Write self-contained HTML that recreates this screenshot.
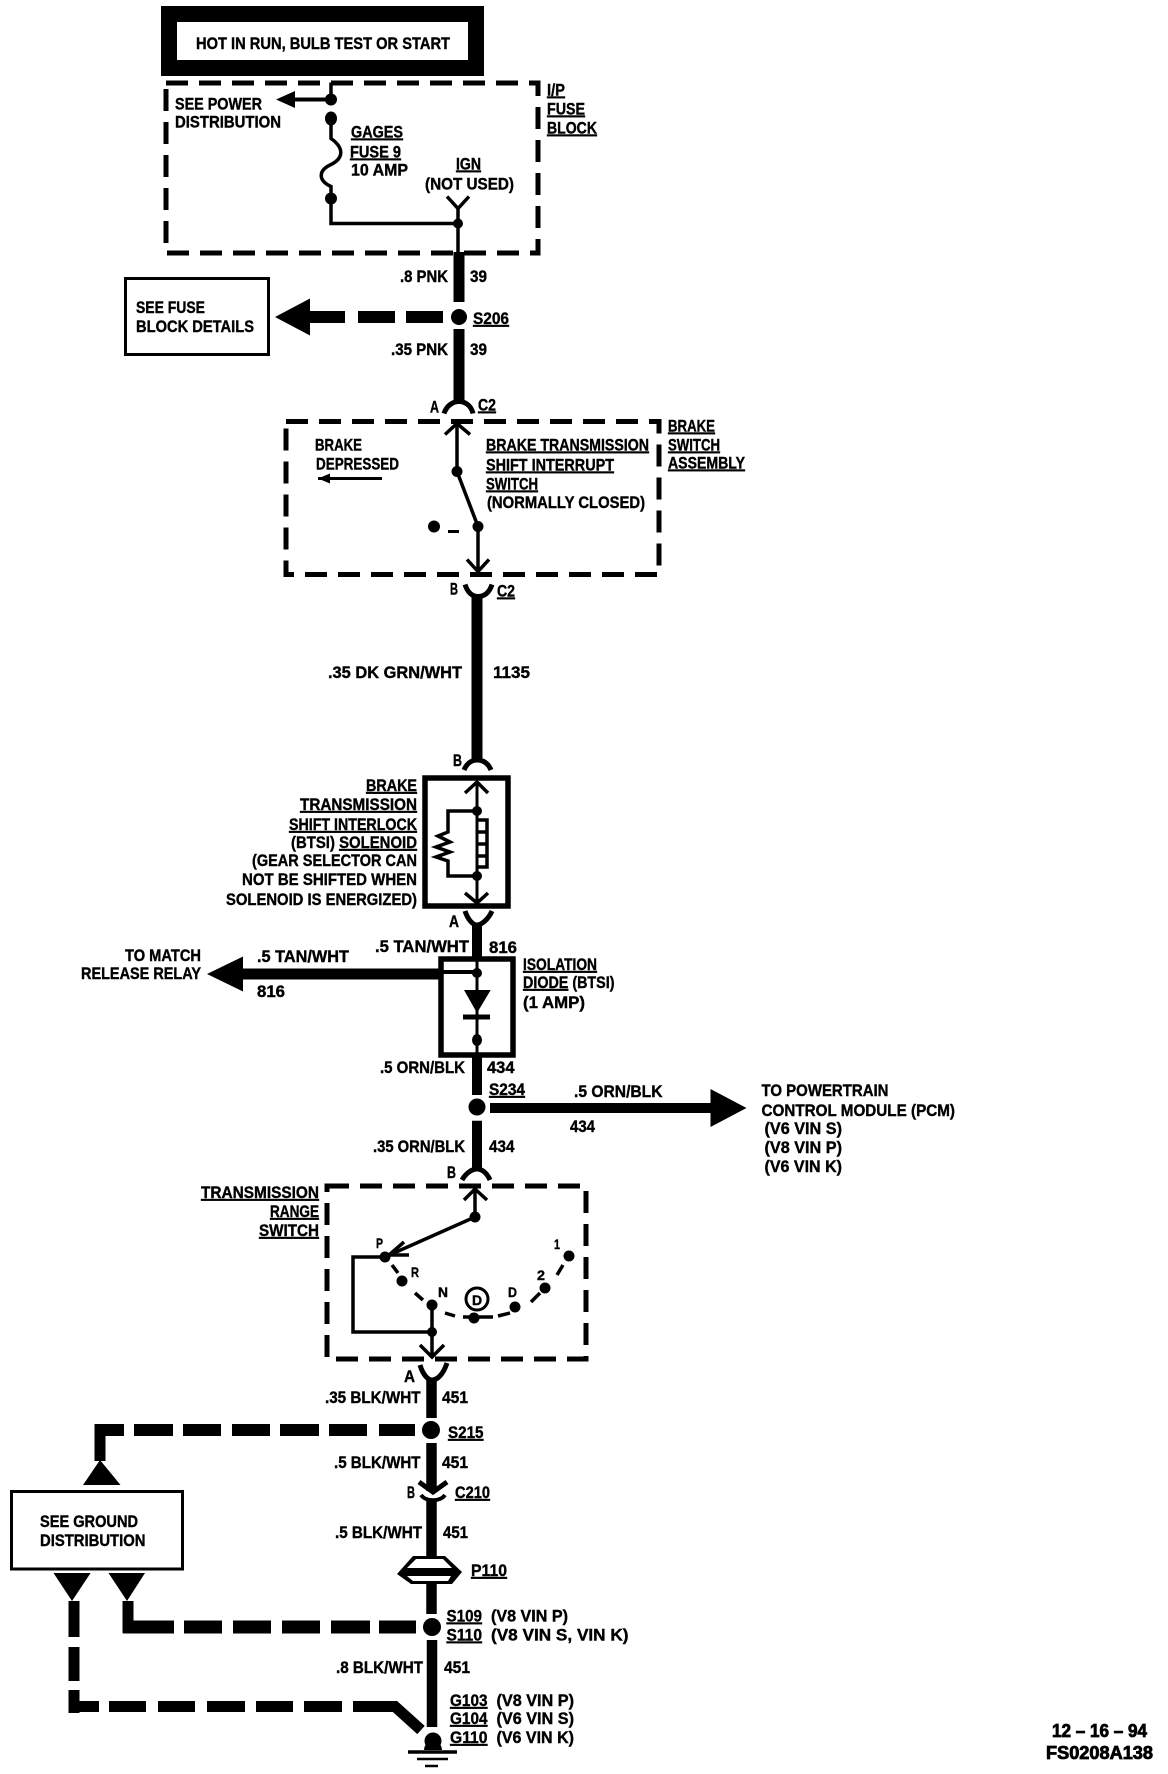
<!DOCTYPE html>
<html><head><meta charset="utf-8"><style>
html,body{margin:0;padding:0;background:#fff}
svg{display:block}
text{font-family:"Liberation Sans",sans-serif;font-weight:bold;font-size:17px;fill:#000;stroke:#000;stroke-width:.4}
.u{text-decoration:underline}
</style></head><body>
<svg width="1168" height="1774" viewBox="0 0 1168 1774" xmlns="http://www.w3.org/2000/svg">
<rect width="1168" height="1774" fill="#fff"/>
<!-- top box -->
<rect x="169" y="14" width="307" height="54" fill="#fff" stroke="#000" stroke-width="16"/>
<text x="196" y="49" textLength="254" lengthAdjust="spacingAndGlyphs">HOT IN RUN, BULB TEST OR START</text>
<!-- fuse block group -->
<g transform="translate(0,-1.5)">
<g fill="none" stroke="#000">
<rect x="166" y="84.500" width="372" height="170" stroke-width="5" stroke-dasharray="22 11"/>
<path d="M331 84V101M331 120V140C345 150 343 160 331 166C318 172 318 182 331 188V200V225H458M458 210V254" stroke-width="3.500"/>
<path d="M447 198L458 210L469 198" stroke-width="3.500"/>
<path d="M331 101H290" stroke-width="4"/>
</g>
<circle cx="331" cy="101" r="6"/><ellipse cx="331" cy="120" rx="6" ry="7"/><circle cx="331" cy="200" r="6"/><circle cx="458" cy="225" r="5"/>
<path d="M276 101L295 92.500V109.500Z"/>
<text x="175" y="111" textLength="87" lengthAdjust="spacingAndGlyphs">SEE POWER</text>
<text x="175" y="129" textLength="106" lengthAdjust="spacingAndGlyphs">DISTRIBUTION</text>
<text x="351" y="139" textLength="52" lengthAdjust="spacingAndGlyphs" class="u">GAGES</text>
<text x="350" y="159" textLength="51" lengthAdjust="spacingAndGlyphs" class="u">FUSE 9</text>
<text x="351" y="177" textLength="57" lengthAdjust="spacingAndGlyphs">10 AMP</text>
<text x="456" y="171" textLength="25" lengthAdjust="spacingAndGlyphs" class="u">IGN</text>
<text x="425" y="191" textLength="89" lengthAdjust="spacingAndGlyphs">(NOT USED)</text>
<text x="547" y="97" textLength="18" lengthAdjust="spacingAndGlyphs" class="u">I/P</text>
<text x="547" y="116" textLength="38" lengthAdjust="spacingAndGlyphs" class="u">FUSE</text>
<text x="547" y="135" textLength="50" lengthAdjust="spacingAndGlyphs" class="u">BLOCK</text>
</g>
<!-- S206 group -->
<g transform="translate(0,-2)">
<g fill="none" stroke="#000">
<rect x="125.500" y="280.500" width="143" height="76" stroke-width="3"/>
<path d="M459 254V304M459 331V404" stroke-width="11"/>
<path d="M443 319H406M395 319H358M345 319H310" stroke-width="12"/>
</g>
<circle cx="459" cy="319" r="8"/>
<path d="M275 319L310 300.500V337.500Z"/>
<text x="400" y="284" textLength="48" lengthAdjust="spacingAndGlyphs">.8 PNK</text>
<text x="470" y="284" textLength="17" lengthAdjust="spacingAndGlyphs">39</text>
<text x="136" y="315" textLength="69" lengthAdjust="spacingAndGlyphs">SEE FUSE</text>
<text x="136" y="334" textLength="118" lengthAdjust="spacingAndGlyphs">BLOCK DETAILS</text>
<text x="473" y="326" textLength="36" lengthAdjust="spacingAndGlyphs" class="u">S206</text>
<text x="391" y="357" textLength="57" lengthAdjust="spacingAndGlyphs">.35 PNK</text>
<text x="470" y="357" textLength="17" lengthAdjust="spacingAndGlyphs">39</text>
</g>
<!-- brake switch group -->
<g transform="translate(0,-3.5)">
<g fill="none" stroke="#000">
<path d="M444 417C447 408 454 405 459 405C464 405 471 408 473 417" stroke-width="5"/>
<rect x="286" y="425" width="373" height="153" stroke-width="5" stroke-dasharray="22 11"/>
<path d="M457 427V475L478 530V578" stroke-width="3.500"/>
<path d="M445 438L457 427L470 438M467 563L478 575L489 563" stroke-width="3.500"/>
<path d="M465 588C468 597 473 600 478 600C484 600 489 597 492 588" stroke-width="5"/>
<path d="M448 535H459" stroke-width="3"/>
<path d="M318 482H382" stroke-width="3"/>
</g>
<circle cx="457" cy="475" r="5.500"/><circle cx="478" cy="530" r="5.500"/><circle cx="434" cy="530" r="6"/>
<path d="M318 482L330 477V487Z"/>
<text x="430" y="416" textLength="9" lengthAdjust="spacingAndGlyphs">A</text>
<text x="478" y="414" textLength="18" lengthAdjust="spacingAndGlyphs" class="u">C2</text>
<text x="315" y="454" textLength="47" lengthAdjust="spacingAndGlyphs">BRAKE</text>
<text x="316" y="473" textLength="83" lengthAdjust="spacingAndGlyphs">DEPRESSED</text>
<text x="486" y="454" textLength="163" lengthAdjust="spacingAndGlyphs" class="u">BRAKE TRANSMISSION</text>
<text x="486" y="474" textLength="128" lengthAdjust="spacingAndGlyphs" class="u">SHIFT INTERRUPT</text>
<text x="486" y="493" textLength="52" lengthAdjust="spacingAndGlyphs" class="u">SWITCH</text>
<text x="487" y="511.500" textLength="158" lengthAdjust="spacingAndGlyphs">(NORMALLY CLOSED)</text>
<text x="668" y="435" textLength="47" lengthAdjust="spacingAndGlyphs" class="u">BRAKE</text>
<text x="668" y="454" textLength="52" lengthAdjust="spacingAndGlyphs" class="u">SWITCH</text>
<text x="668" y="472" textLength="77" lengthAdjust="spacingAndGlyphs" class="u">ASSEMBLY</text>
<text x="450" y="598" textLength="8" lengthAdjust="spacingAndGlyphs">B</text>
<text x="497" y="600" textLength="18" lengthAdjust="spacingAndGlyphs" class="u">C2</text>
</g>
<g fill="none" stroke="#000">
<path d="M477 596V761" stroke-width="11"/>
<path d="M464 770C467 763 472 760 477 760C483 760 488 763 491 770" stroke-width="5"/>
<!-- solid boxes -->
<rect x="425" y="778" width="83" height="128" stroke-width="5.500"/>
<rect x="441" y="959" width="72" height="96" stroke-width="5.500"/>
<rect x="11.500" y="1491.500" width="171" height="77.500" stroke-width="3"/>
<rect x="327" y="1186" width="259" height="173" stroke-width="5" stroke-dasharray="22 11"/>
<!-- solenoid -->
<path d="M477 782V906" stroke-width="3"/>
<path d="M465 793L477 782L488 793M465 893L477 903L488 893" stroke-width="3.500"/>
<path d="M477 811H448V832L438 836L450 842L436 847L450 852L436 857L448 861V876H477" stroke-width="3.500"/>
<path d="M477 820H487V867H477M487 832H477M487 844H477M487 856H477" stroke-width="3.500"/>
<path d="M465 911C468 920 473 925 477 925C481 925 488 920 492 911" stroke-width="5"/>
<path d="M477 925V959" stroke-width="10"/>
<!-- diode -->
<path d="M477 959V1055" stroke-width="3"/>
<path d="M463 1017H490" stroke-width="5"/>
<path d="M441 972H477" stroke-width="4"/>
<path d="M240 974H441" stroke-width="11"/>
<path d="M477 1055V1095M477 1120.700V1170" stroke-width="10"/>
<path d="M490 1108H712" stroke-width="10"/>
<path d="M462 1180C466 1173 472 1169 477 1169C482 1169 487 1173 490 1180" stroke-width="5"/>
<!-- range switch -->
<path d="M475 1189V1217L385 1257H353V1332H432V1305" stroke-width="3.500"/>
<path d="M432 1332V1358" stroke-width="3.500"/>
<path d="M464 1200L475 1189L487 1200M420 1345L432 1357L444 1345" stroke-width="3.500"/>
<path d="M404 1242L389 1255L409 1255" stroke-width="3.500"/>
<circle cx="477" cy="1299" r="11" stroke-width="3"/>
<path d="M392 1265L398 1273M415 1293L423 1300M445 1313L455 1316M463 1317H493M498 1316L510 1313M531 1302L540 1293M557 1275L563 1265" stroke-width="3.500"/>
<path d="M420 1365C423 1375 428 1380 432 1380C437 1380 443 1375 447 1363" stroke-width="5"/>
<path d="M431.500 1380V1418M431.500 1443V1491M431.500 1499V1556M431.500 1584V1614M432 1640V1727" stroke-width="10.500"/>
<path d="M419 1482L433 1492L447 1482" stroke-width="5"/>
<path d="M421 1495C426 1502 440 1502 445 1495" stroke-width="4"/>
<!-- dashed thick -->
<path d="M415 1430H379M367 1430H329M319 1430H280M270 1430H232M221 1430H183M173 1430H134M124 1430H95" stroke-width="12"/>
<path d="M100 1424V1461" stroke-width="11"/>
<path d="M416 1627H379M370 1627H331M320 1627H282M271 1627H233M222 1627H184M174 1627H123" stroke-width="13"/>
<path d="M128 1601V1633" stroke-width="11"/>
<path d="M74 1601V1637M74 1647V1681M74 1690V1713" stroke-width="11"/>
<path d="M69 1706.500H99M109 1706.500H146M158 1706.500H195M207 1706.500H245M256 1706.500H293M304 1706.500H342M353 1706.500H395L421 1730" stroke-width="11"/>
<!-- ground -->
<path d="M408 1752H457" stroke-width="3.500"/>
<path d="M417 1759H448" stroke-width="2.500"/>
<path d="M425 1766H438" stroke-width="2.500"/>
</g>
<g fill="#000">
<!-- dots -->
<circle cx="477" cy="811" r="5"/><circle cx="477" cy="876" r="5"/>
<circle cx="477" cy="973" r="5"/><ellipse cx="477" cy="1040" rx="5" ry="6"/>
<circle cx="477" cy="1107" r="8.500"/>
<circle cx="475" cy="1217" r="5.500"/><circle cx="385" cy="1257" r="5.500"/><circle cx="402" cy="1281" r="5.500"/><circle cx="432" cy="1305" r="5.500"/><circle cx="432" cy="1332" r="5"/>
<circle cx="474" cy="1318" r="5.500"/><circle cx="515" cy="1307" r="5.500"/><circle cx="545" cy="1288" r="5.500"/><circle cx="569" cy="1256" r="5.500"/>
<circle cx="431" cy="1430" r="9"/><circle cx="432" cy="1627" r="9"/>
<path d="M424 1750A9 9 0 0 1 442 1750Z"/><circle cx="433" cy="1741" r="8.500"/>
<!-- arrowheads -->
<path d="M464 990H490.700L477 1013Z"/>
<path d="M207 974L243 956.500V991.500Z"/>
<path d="M746.500 1108L710.500 1089V1127Z"/>
<path d="M100 1460L120.500 1485H83Z"/>
<path d="M127 1601L108.500 1573H145Z"/>
<path d="M72 1601L53.500 1573H90.600Z"/>
<path d="M413 1556H445L462 1572L452 1584H411L397 1574Z"/>
</g>
<path d="M416 1559H443L452 1568H407Z" fill="#fff"/>
<path d="M407 1576H451L448 1581H413Z" fill="#fff"/>
<!-- text -->
<text x="328" y="678" textLength="134" lengthAdjust="spacingAndGlyphs">.35 DK GRN/WHT</text>
<text x="493" y="678" textLength="37" lengthAdjust="spacingAndGlyphs">1135</text>
<text x="453" y="766" textLength="9" lengthAdjust="spacingAndGlyphs">B</text>
<text x="366" y="791" textLength="51" lengthAdjust="spacingAndGlyphs" class="u">BRAKE</text>
<text x="300" y="810" textLength="117" lengthAdjust="spacingAndGlyphs" class="u">TRANSMISSION</text>
<text x="289" y="830" textLength="128" lengthAdjust="spacingAndGlyphs" class="u">SHIFT INTERLOCK</text>
<text x="291" y="848" textLength="126" lengthAdjust="spacingAndGlyphs">(BTSI) <tspan class="u">SOLENOID</tspan></text>
<text x="252" y="866" textLength="165" lengthAdjust="spacingAndGlyphs">(GEAR SELECTOR CAN</text>
<text x="242" y="885" textLength="175" lengthAdjust="spacingAndGlyphs">NOT BE SHIFTED WHEN</text>
<text x="226" y="905" textLength="191" lengthAdjust="spacingAndGlyphs">SOLENOID IS ENERGIZED)</text>
<text x="449" y="927" textLength="10" lengthAdjust="spacingAndGlyphs">A</text>
<text x="375" y="952" textLength="94" lengthAdjust="spacingAndGlyphs">.5 TAN/WHT</text>
<text x="489" y="953" textLength="28" lengthAdjust="spacingAndGlyphs">816</text>
<text x="257" y="962" textLength="92" lengthAdjust="spacingAndGlyphs">.5 TAN/WHT</text>
<text x="125" y="961" textLength="76" lengthAdjust="spacingAndGlyphs">TO MATCH</text>
<text x="81" y="979" textLength="120" lengthAdjust="spacingAndGlyphs">RELEASE RELAY</text>
<text x="257" y="997" textLength="28" lengthAdjust="spacingAndGlyphs">816</text>
<text x="523" y="970" textLength="74" lengthAdjust="spacingAndGlyphs" class="u">ISOLATION</text>
<text x="523" y="988" textLength="91.500" lengthAdjust="spacingAndGlyphs"><tspan class="u">DIODE</tspan> (BTSI)</text>
<text x="523" y="1008" textLength="62" lengthAdjust="spacingAndGlyphs">(1 AMP)</text>
<text x="380" y="1073" textLength="85" lengthAdjust="spacingAndGlyphs">.5 ORN/BLK</text>
<text x="487" y="1073" textLength="27.500" lengthAdjust="spacingAndGlyphs">434</text>
<text x="489" y="1095" textLength="36" lengthAdjust="spacingAndGlyphs" class="u">S234</text>
<text x="574" y="1097" textLength="88.500" lengthAdjust="spacingAndGlyphs">.5 ORN/BLK</text>
<text x="570" y="1132" textLength="25" lengthAdjust="spacingAndGlyphs">434</text>
<text x="761.500" y="1096" textLength="127" lengthAdjust="spacingAndGlyphs">TO POWERTRAIN</text>
<text x="761.500" y="1116" textLength="193.500" lengthAdjust="spacingAndGlyphs">CONTROL MODULE (PCM)</text>
<text x="764.500" y="1134" textLength="77.500" lengthAdjust="spacingAndGlyphs">(V6 VIN S)</text>
<text x="764.500" y="1153" textLength="77.500" lengthAdjust="spacingAndGlyphs">(V8 VIN P)</text>
<text x="764.500" y="1172" textLength="77.500" lengthAdjust="spacingAndGlyphs">(V6 VIN K)</text>
<text x="373" y="1152" textLength="92" lengthAdjust="spacingAndGlyphs">.35 ORN/BLK</text>
<text x="489" y="1152" textLength="25.500" lengthAdjust="spacingAndGlyphs">434</text>
<text x="447" y="1178" textLength="9" lengthAdjust="spacingAndGlyphs">B</text>
<text x="201" y="1198" textLength="118" lengthAdjust="spacingAndGlyphs" class="u">TRANSMISSION</text>
<text x="270" y="1217" textLength="49" lengthAdjust="spacingAndGlyphs" class="u">RANGE</text>
<text x="259" y="1236" textLength="60" lengthAdjust="spacingAndGlyphs" class="u">SWITCH</text>
<text x="376" y="1248" textLength="7" lengthAdjust="spacingAndGlyphs" style="font-size:14px">P</text>
<text x="411" y="1277" textLength="8" lengthAdjust="spacingAndGlyphs" style="font-size:14px">R</text>
<text x="438" y="1297" textLength="10" lengthAdjust="spacingAndGlyphs" style="font-size:14px">N</text>
<text x="472" y="1305" style="font-size:14px">D</text>
<text x="508" y="1297" textLength="9" lengthAdjust="spacingAndGlyphs" style="font-size:14px">D</text>
<text x="537" y="1280" textLength="8" lengthAdjust="spacingAndGlyphs" style="font-size:14px">2</text>
<text x="554" y="1249" textLength="6" lengthAdjust="spacingAndGlyphs" style="font-size:14px">1</text>
<text x="404" y="1382" textLength="11" lengthAdjust="spacingAndGlyphs">A</text>
<text x="325" y="1403" textLength="95.500" lengthAdjust="spacingAndGlyphs">.35 BLK/WHT</text>
<text x="442" y="1403" textLength="26" lengthAdjust="spacingAndGlyphs">451</text>
<text x="448" y="1438" textLength="35.500" lengthAdjust="spacingAndGlyphs" class="u">S215</text>
<text x="334" y="1468" textLength="86.500" lengthAdjust="spacingAndGlyphs">.5 BLK/WHT</text>
<text x="442" y="1468" textLength="26" lengthAdjust="spacingAndGlyphs">451</text>
<text x="407" y="1498" textLength="8" lengthAdjust="spacingAndGlyphs">B</text>
<text x="455" y="1498" textLength="35" lengthAdjust="spacingAndGlyphs" class="u">C210</text>
<text x="40" y="1527" textLength="98" lengthAdjust="spacingAndGlyphs">SEE GROUND</text>
<text x="40" y="1546" textLength="105.500" lengthAdjust="spacingAndGlyphs">DISTRIBUTION</text>
<text x="335" y="1538" textLength="87" lengthAdjust="spacingAndGlyphs">.5 BLK/WHT</text>
<text x="443" y="1538" textLength="25" lengthAdjust="spacingAndGlyphs">451</text>
<text x="471" y="1576" textLength="36" lengthAdjust="spacingAndGlyphs" class="u">P110</text>
<text x="446.500" y="1621.500" textLength="35.500" lengthAdjust="spacingAndGlyphs" class="u">S109</text>
<text x="491" y="1621.500" textLength="77" lengthAdjust="spacingAndGlyphs">(V8 VIN P)</text>
<text x="446.500" y="1640.500" textLength="35.500" lengthAdjust="spacingAndGlyphs" class="u">S110</text>
<text x="491" y="1640.500" textLength="137.500" lengthAdjust="spacingAndGlyphs">(V8 VIN S, VIN K)</text>
<text x="336" y="1673" textLength="87" lengthAdjust="spacingAndGlyphs">.8 BLK/WHT</text>
<text x="444" y="1673" textLength="26" lengthAdjust="spacingAndGlyphs">451</text>
<text x="450" y="1706" textLength="37.500" lengthAdjust="spacingAndGlyphs" class="u">G103</text>
<text x="496.500" y="1706" textLength="77.500" lengthAdjust="spacingAndGlyphs">(V8 VIN P)</text>
<text x="450" y="1724" textLength="37.500" lengthAdjust="spacingAndGlyphs" class="u">G104</text>
<text x="496.500" y="1724" textLength="77.500" lengthAdjust="spacingAndGlyphs">(V6 VIN S)</text>
<text x="450" y="1743" textLength="37.500" lengthAdjust="spacingAndGlyphs" class="u">G110</text>
<text x="496.500" y="1743" textLength="77.500" lengthAdjust="spacingAndGlyphs">(V6 VIN K)</text>
<text x="1052" y="1737" textLength="95" lengthAdjust="spacingAndGlyphs" style="font-size:18px;stroke-width:.8">12 – 16 – 94</text>
<text x="1046" y="1759" textLength="107" lengthAdjust="spacingAndGlyphs" style="font-size:18px;stroke-width:.8">FS0208A138</text>
</svg>
</body></html>
